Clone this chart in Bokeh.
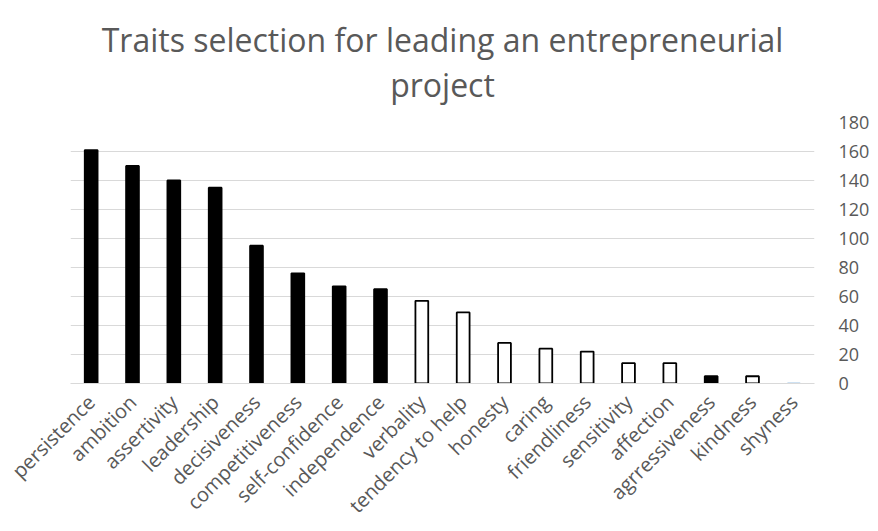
import math
from bokeh.plotting import figure
from bokeh.models import FactorRange, LinearAxis, Range1d, Title, FixedTicker, ColumnDataSource
from bokeh.embed import file_html
from bokeh.resources import INLINE

title_lines = ["Traits selection for leading an entrepreneurial", "project"]
categories = ["persistence", "ambition", "assertivity", "leadership", "decisiveness",
              "competitiveness", "self-confidence", "independence", "verbality",
              "tendency to help", "honesty", "caring", "friendliness", "sensitivity",
              "affection", "agrressiveness", "kindness", "shyness"]
counts = [161, 150, 140, 135, 95, 76, 67, 65, 57, 49, 28, 24, 22, 14, 14, 5, 5, 0]
trait_group = ["masculine"] * 8 + ["feminine"] * 7 + ["masculine", "feminine", "neutral"]
y_ticks = [0, 20, 40, 60, 80, 100, 120, 140, 160, 180]

fill_map = {"masculine": "#000000", "feminine": "#FFFFFF", "neutral": "#FFFFFF"}
line_map = {"masculine": "#000000", "feminine": "#000000", "neutral": "#9DC3E6"}

src = ColumnDataSource(dict(
    x=categories, top=counts,
    fill=[fill_map[g] for g in trait_group],
    line=[line_map[g] for g in trait_group],
))

TEXT = "#595959"
FONT = "Open Sans"

p = figure(width=878, height=531, x_range=FactorRange(factors=categories),
           y_range=Range1d(0, 180), output_backend="svg", toolbar_location=None,
           y_axis_location=None, min_border_left=70, min_border_right=64,
           min_border_top=122, min_border_bottom=148)
p.outline_line_color = None
p.background_fill_color = "white"
p.border_fill_color = "white"

p.vbar(x="x", top="top", width=0.31, source=src, fill_color="fill",
       line_color="line", line_width=1.8)

yax = LinearAxis(ticker=FixedTicker(ticks=y_ticks))
yax.axis_line_color = None
yax.major_tick_line_color = None
yax.minor_tick_line_color = None
yax.major_tick_in = 0
yax.major_tick_out = 0
yax.major_label_standoff = 24
yax.major_label_text_font = FONT
yax.major_label_text_font_size = "18px"
yax.major_label_text_color = TEXT
p.add_layout(yax, "right")

xax = p.xaxis[0]
xax.axis_line_color = "#D9D9D9"
xax.major_tick_line_color = None
xax.minor_tick_line_color = None
xax.major_tick_in = 0
xax.major_tick_out = 0
xax.major_label_orientation = math.pi / 4
xax.major_label_standoff = 15
xax.major_label_text_font = FONT
xax.major_label_text_font_size = "20px"
xax.major_label_text_color = TEXT

p.xgrid.grid_line_color = None
p.ygrid.ticker = FixedTicker(ticks=y_ticks)
p.ygrid.grid_line_color = "#D9D9D9"
p.ygrid.grid_line_width = 1.2

t = Title(text="\n".join(title_lines), align="center", text_font=FONT, text_font_size="32px",
          text_color=TEXT, text_font_style="normal", text_line_height=1.05,
          standoff=32, offset=0)
try:
    t.text_align = "center"
except AttributeError:
    pass
p.add_layout(t, "above")

open("out.html", "w").write(file_html(p, INLINE))
